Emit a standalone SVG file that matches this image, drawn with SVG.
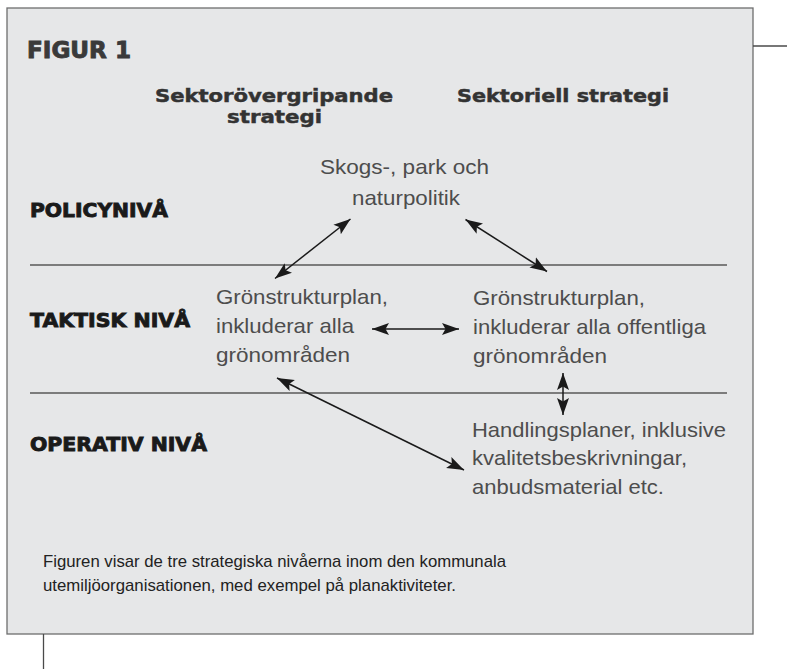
<svg xmlns="http://www.w3.org/2000/svg" width="787" height="669" viewBox="0 0 787 669">
  <style>
    .frame { fill: #e6e7e8; stroke: #6e6e6e; stroke-width: 1.3; }
    .rule { stroke: #585858; stroke-width: 1.3; fill: none; }
    .ext { stroke: #4a4a4a; stroke-width: 1.3; fill: none; }
    .level { font-family: "DejaVu Sans", "Liberation Sans", sans-serif; font-weight: bold; font-size: 19px; fill: #1a1a1a; stroke: #1a1a1a; stroke-width: 0.9; }
    .title { font-family: "DejaVu Sans", "Liberation Sans", sans-serif; font-weight: bold; font-size: 22.5px; fill: #3a3a3a; stroke: #3a3a3a; stroke-width: 0.9; }
    .head { font-family: "DejaVu Sans", "Liberation Sans", sans-serif; font-weight: bold; font-size: 18.5px; fill: #333333; stroke: #333333; stroke-width: 0.5; }
    .body { font-family: "Liberation Sans", Arial, sans-serif; font-size: 21px; fill: #4d4d4d; }
    .cap { font-family: "Liberation Sans", Arial, sans-serif; font-size: 17px; fill: #222222; }
    .arrow { stroke: #1a1a1a; stroke-width: 1.5; fill: none; marker-start: url(#ah); marker-end: url(#ah); }
  </style>
  <defs>
    <marker id="ah" markerUnits="userSpaceOnUse" markerWidth="19" markerHeight="13" refX="17" refY="6.5" orient="auto-start-reverse" viewBox="0 0 19 13">
      <path d="M0,0.5 L17,6.5 L0,12.5 L3.5,6.5 Z" fill="#1a1a1a"/>
    </marker>
  </defs>

  <g id="frame">
    <rect class="frame" x="7" y="8" width="746" height="626"/>
    <line class="ext" x1="753" y1="46" x2="787" y2="46"/>
    <line class="ext" x1="43.5" y1="634" x2="43.5" y2="669"/>
    <line class="rule" x1="30" y1="265" x2="727" y2="265"/>
    <line class="rule" x1="30" y1="393" x2="727" y2="393"/>
  </g>

  <g id="title">
    <text class="title" x="27" y="58" textLength="104" lengthAdjust="spacingAndGlyphs">FIGUR 1</text>
  </g>

  <g id="headers">
    <text class="head" x="155" y="101.5" textLength="238" lengthAdjust="spacingAndGlyphs">Sektorövergripande</text>
    <text class="head" x="227" y="123" textLength="95" lengthAdjust="spacingAndGlyphs">strategi</text>
    <text class="head" x="457" y="101.5" textLength="212" lengthAdjust="spacingAndGlyphs">Sektoriell strategi</text>
  </g>

  <g id="levels">
    <text class="level" x="30" y="217" textLength="138" lengthAdjust="spacingAndGlyphs">POLICYNIVÅ</text>
    <text class="level" x="30" y="327" textLength="160" lengthAdjust="spacingAndGlyphs">TAKTISK NIVÅ</text>
    <text class="level" x="30" y="451" textLength="177" lengthAdjust="spacingAndGlyphs">OPERATIV NIVÅ</text>
  </g>

  <g id="node-policy">
    <text class="body" x="320" y="174" textLength="169" lengthAdjust="spacingAndGlyphs">Skogs-, park och</text>
    <text class="body" x="352" y="205" textLength="108" lengthAdjust="spacingAndGlyphs">naturpolitik</text>
  </g>

  <g id="node-taktisk-left">
    <text class="body" x="216" y="304" textLength="172" lengthAdjust="spacingAndGlyphs">Grönstrukturplan,</text>
    <text class="body" x="216" y="333" textLength="138" lengthAdjust="spacingAndGlyphs">inkluderar alla</text>
    <text class="body" x="216" y="362" textLength="134" lengthAdjust="spacingAndGlyphs">grönområden</text>
  </g>

  <g id="node-taktisk-right">
    <text class="body" x="473" y="305" textLength="172" lengthAdjust="spacingAndGlyphs">Grönstrukturplan,</text>
    <text class="body" x="473" y="334" textLength="233" lengthAdjust="spacingAndGlyphs">inkluderar alla offentliga</text>
    <text class="body" x="473" y="363" textLength="134" lengthAdjust="spacingAndGlyphs">grönområden</text>
  </g>

  <g id="node-operativ">
    <text class="body" x="472" y="437" textLength="254" lengthAdjust="spacingAndGlyphs">Handlingsplaner, inklusive</text>
    <text class="body" x="472" y="465" textLength="215" lengthAdjust="spacingAndGlyphs">kvalitetsbeskrivningar,</text>
    <text class="body" x="472" y="494" textLength="192" lengthAdjust="spacingAndGlyphs">anbudsmaterial etc.</text>
  </g>

  <g id="connectors">
    <line class="arrow" x1="350.5" y1="219" x2="275" y2="278.5"/>
    <line class="arrow" x1="465.5" y1="219.5" x2="547" y2="271.5"/>
    <line class="arrow" x1="372" y1="329" x2="459" y2="329"/>
    <line class="arrow" x1="563" y1="373" x2="563" y2="415"/>
    <line class="arrow" x1="277" y1="378" x2="464" y2="470"/>
  </g>

  <g id="caption">
    <text class="cap" x="43" y="567" textLength="463" lengthAdjust="spacingAndGlyphs">Figuren visar de tre strategiska nivåerna inom den kommunala</text>
    <text class="cap" x="43" y="591" textLength="413" lengthAdjust="spacingAndGlyphs">utemiljöorganisationen, med exempel på planaktiviteter.</text>
  </g>
</svg>
